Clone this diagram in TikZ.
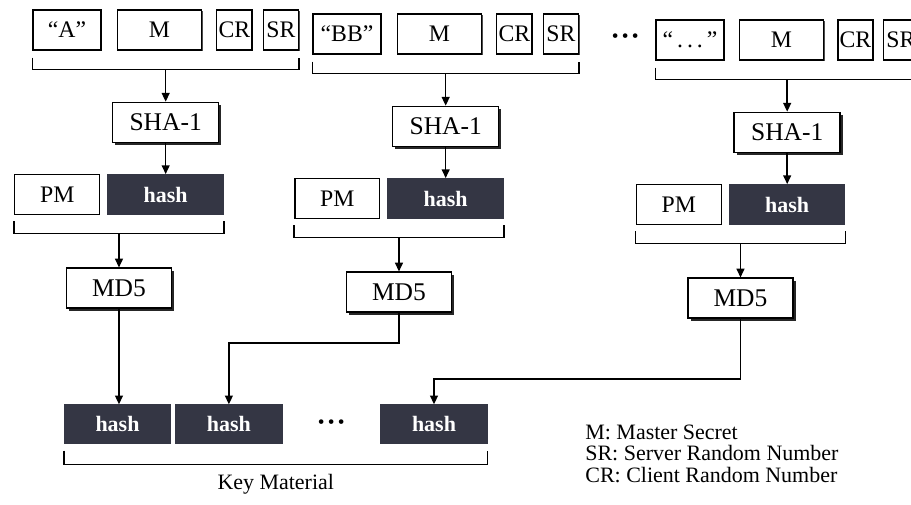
\documentclass[tikz,border=0pt]{standalone}
\usepackage{fontspec}
\setmainfont{Liberation Serif}
\usepackage{tikz}
\usetikzlibrary{arrows.meta,positioning,shadows,calc}
\definecolor{hashgray}{RGB}{52,54,68}
\tikzset{
  box/.style    ={draw, line width=0.8pt, fill=white, minimum width=#1,
                  minimum height=0.8cm, inner sep=1pt,
                  font=\fontsize{13.5}{15}\selectfont},
  box/.default=1.7cm,
  inbox/.style  ={box=#1, drop shadow={shadow xshift=0.7pt, shadow yshift=-0.7pt,
                  fill=black!70, opacity=1}},
  inbox/.default=1.36cm,
  opbox/.style  ={box=2.12cm, font=\fontsize{14.5}{16}\selectfont,
                  drop shadow={shadow xshift=1.5pt, shadow yshift=-1.5pt,
                  fill=black!85, opacity=1}},
  hashbox/.style={box=#1, fill=hashgray, draw=hashgray, text=white,
                  font=\fontsize{12.5}{14}\selectfont\bfseries},
  hashbox/.default=2.3cm,
  brk/.style    ={line width=0.8pt},
  arr/.style    ={-{Triangle[length=5pt,width=4.5pt]}, line width=0.8pt},
  dots/.style   ={font=\fontsize{11}{12}\selectfont, inner sep=0pt},
  note/.style   ={font=\fontsize{12.5}{12.2}\selectfont, align=left,
                  anchor=west, inner sep=0pt},
}
\begin{document}
\begin{tikzpicture}[x=0.02cm, y=-0.02cm]
  \useasboundingbox (0,0) rectangle (911,504);
  \clip (0,0) rectangle (911,504);
  %% first block
  \node[inbox] (a1) at (67,30) {``A''};
  \node[inbox=1.68cm, right=0.3cm of a1] (m1) {M};
  \node[inbox=0.7cm, right=0.28cm of m1] (cr1) {CR};
  \node[inbox=0.7cm, right=0.2cm of cr1] (sr1) {SR};
  \coordinate (b1) at ($(a1.south west)!0.5!(sr1.south east)+(0cm,-0.38cm)$);
  \draw[brk] ([yshift=-0.14cm]a1.south west) |- (b1) -| ([yshift=-0.14cm]sr1.south east);
  \node[opbox, below=0.64cm of b1] (sha1) {SHA-1};
  \node[hashbox, below=0.62cm of sha1] (h1) {hash};
  \node[box, left=0.14cm of h1] (pm1) {PM};
  \draw[arr] (b1) -- (sha1);
  \draw[arr] (sha1) -- (h1);
  \coordinate (c1) at ($(pm1.south west)!0.5!(h1.south east)+(0cm,-0.36cm)$);
  \draw[brk] ([yshift=-0.12cm]pm1.south west) |- (c1) -| ([yshift=-0.12cm]h1.south east);
  \node[opbox, minimum width=2.1cm, below=0.68cm of c1] (md1) {MD5};
  \draw[arr] (c1) -- (md1);
  %% second block
  \node[inbox] (a2) at (347,34) {``BB''};
  \node[inbox=1.68cm, right=0.3cm of a2] (m2) {M};
  \node[inbox=0.7cm, right=0.28cm of m2] (cr2) {CR};
  \node[inbox=0.7cm, right=0.2cm of cr2] (sr2) {SR};
  \coordinate (b2) at ($(a2.south west)!0.5!(sr2.south east)+(0cm,-0.38cm)$);
  \draw[brk] ([yshift=-0.14cm]a2.south west) |- (b2) -| ([yshift=-0.14cm]sr2.south east);
  \node[opbox, below=0.64cm of b2] (sha2) {SHA-1};
  \node[hashbox, below=0.62cm of sha2] (h2) {hash};
  \node[box, left=0.14cm of h2] (pm2) {PM};
  \draw[arr] (b2) -- (sha2);
  \draw[arr] (sha2) -- (h2);
  \coordinate (c2) at ($(pm2.south west)!0.5!(h2.south east)+(0cm,-0.36cm)$);
  \draw[brk] ([yshift=-0.12cm]pm2.south west) |- (c2) -| ([yshift=-0.12cm]h2.south east);
  \node[opbox, minimum width=2.1cm, below=0.68cm of c2] (md2) {MD5};
  \draw[arr] (c2) -- (md2);
  \node[dots, right=0.65cm of sr2, yshift=-0.08cm] (td) {\textbullet\,\textbullet\,\textbullet};
  %% last block
  \node[inbox] (a3) at (690,40) {``\,.\,.\,.\,''};
  \node[inbox=1.68cm, right=0.28cm of a3] (m3) {M};
  \node[inbox=0.7cm, right=0.26cm of m3] (cr3) {CR};
  \node[inbox=0.7cm, right=0.18cm of cr3] (sr3) {SR};
  \coordinate (b3) at ($(a3.south west)!0.5!(sr3.south east)+(0cm,-0.38cm)$);
  \draw[brk] ([yshift=-0.14cm]a3.south west) |- (b3) -| ([yshift=-0.14cm]sr3.south east);
  \node[opbox, below=0.64cm of b3] (sha3) {SHA-1};
  \node[hashbox, below=0.62cm of sha3] (h3) {hash};
  \node[box, left=0.14cm of h3] (pm3) {PM};
  \draw[arr] (b3) -- (sha3);
  \draw[arr] (sha3) -- (h3);
  \coordinate (c3) at ($(pm3.south west)!0.5!(h3.south east)+(0cm,-0.36cm)$);
  \draw[brk] ([yshift=-0.12cm]pm3.south west) |- (c3) -| ([yshift=-0.12cm]h3.south east);
  \node[opbox, minimum width=2.1cm, below=0.68cm of c3] (md3) {MD5};
  \draw[arr] (c3) -- (md3);
  %% key material
  \node[hashbox=2.12cm, minimum height=0.76cm] (k1) at (117.5,424) {hash};
  \node[hashbox=2.12cm, minimum height=0.76cm, right=0.08cm of k1] (k2) {hash};
  \node[dots, right=0.7cm of k2] (kd) {\textbullet\,\textbullet\,\textbullet};
  \node[hashbox=2.12cm, minimum height=0.76cm] (k3) at (434,424) {hash};
  \coordinate (e1) at ($(k1.south west)!0.5!(k3.south east)+(0cm,-0.42cm)$);
  \draw[brk] ([yshift=-0.14cm]k1.south west) |- (e1) -| ([yshift=-0.14cm]k3.south east);
  \node[box, draw=none, fill=none, minimum height=0cm, font=\fontsize{12.5}{14}\selectfont,
        below=0.14cm of e1] (km) {Key Material};
  \draw[arr] (md1) -- (md1 |- k1.north);
  \draw[arr] (md2.south) -- ++(0,30) -| (k2.north);
  \draw[arr] (md3.south) -- ++(0,60) -| (k3.north);
  %% legend
  \node[note] (legend) at (585,453.5) {M: Master Secret\\SR: Server Random Number\\CR: Client Random Number};
\end{tikzpicture}
\end{document}
